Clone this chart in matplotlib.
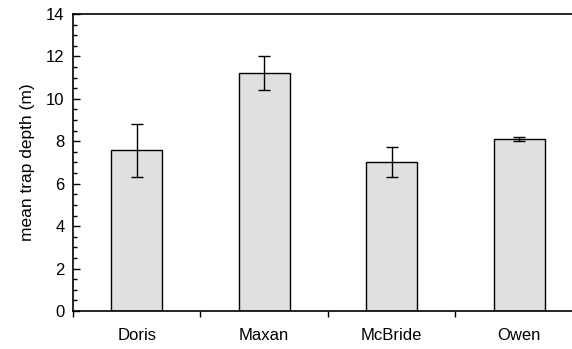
import numpy as np
import matplotlib.pyplot as plt
from matplotlib.ticker import MultipleLocator, FixedLocator

plt.rcParams['font.family'] = ['Liberation Sans', 'DejaVu Sans']

# data
sites = ["Doris", "Maxan", "McBride", "Owen"]
depth = [7.58, 11.2, 7.03, 8.1]
err_hi = [8.8, 12.0, 7.72, 8.2]
err_lo = [6.3, 10.4, 6.3, 8.0]

x = np.arange(len(sites))
yerr = [np.array(depth) - np.array(err_lo), np.array(err_hi) - np.array(depth)]

fig = plt.figure(figsize=(5.72, 3.49), dpi=100)
ax = fig.add_axes([0.1276, 0.1089, 0.8916, 0.851])

ax.bar(x, depth, width=0.4, color='#e0e0e0', edgecolor='black', linewidth=1.0, zorder=2)
ax.errorbar(x, depth, yerr=yerr, fmt='none', ecolor='black', elinewidth=1.0,
            capsize=4, capthick=1.0, zorder=3)

ax.set_xlim(-0.5, 3.5)
ax.set_ylim(0, 14)
ax.set_xticks(x)
ax.set_xticklabels(sites, fontsize=12)
ax.xaxis.set_minor_locator(FixedLocator([-0.5, 0.5, 1.5, 2.5]))
ax.tick_params(axis='x', which='major', length=0, pad=12)
ax.tick_params(axis='x', which='minor', direction='out', length=4, width=1)

ax.yaxis.set_major_locator(MultipleLocator(2))
ax.yaxis.set_minor_locator(MultipleLocator(0.5))
ax.tick_params(axis='y', which='major', direction='in', length=5, width=1, labelsize=12, pad=6)
ax.tick_params(axis='y', which='minor', direction='in', length=3, width=1)
ax.set_ylabel("mean trap depth (m)", fontsize=12.5, labelpad=8)

for s in ax.spines.values():
    s.set_linewidth(1.2)

fig.savefig("out.png", dpi=100)
